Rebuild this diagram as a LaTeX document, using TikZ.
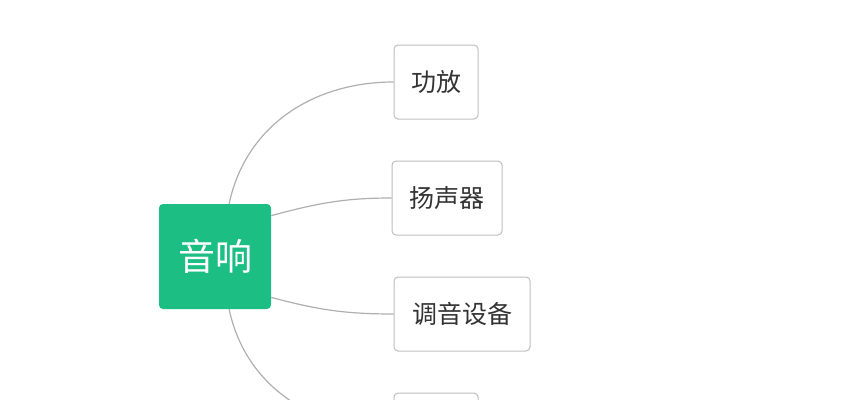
\documentclass[tikz,border=0pt]{standalone}
\usepackage{fontspec}
\setmainfont{Noto Sans CJK SC}
\usepackage{tikz}
\definecolor{mintgreen}{RGB}{28,190,132}
\definecolor{boxgrey}{RGB}{190,190,190}
\definecolor{linkgrey}{RGB}{175,175,175}
\definecolor{textgrey}{RGB}{51,51,51}

\begin{document}
\begin{tikzpicture}[x=0.75pt,y=-0.75pt,
  root/.style={fill=mintgreen,text=white,rounded corners=3pt,inner sep=0pt,
    minimum width=84pt,minimum height=78.75pt,font=\fontsize{27.75}{30}\selectfont},
  leaf/.style={draw=boxgrey,line width=0.75pt,fill=white,text=textgrey,rounded corners=3pt,inner sep=0pt,
    minimum height=55.5pt,font=\fontsize{18.75}{22}\selectfont},
  link/.style={draw=linkgrey,line width=0.9pt}]
\useasboundingbox (0,0) rectangle (851,400);
\clip (0,0) rectangle (851,400);
\node [root] (yinxiang) at (215,256.5) {音响};
\node [leaf,minimum width=63pt] (gongfang) at (436,82) {功放};
\node [leaf,minimum width=82.5pt] (yangshengqi) at (447,198) {扬声器};
\node [leaf,minimum width=102pt] (tiaoyin) at (462,314) {调音设备};
\node [leaf,minimum width=63pt] (more) at (436,430) {};
\draw [link] (gongfang.west) to[out=180,in=78] (yinxiang.75);
\draw [link] (yangshengqi.west) to[out=180,in=15] (yinxiang.36);
\draw [link] (tiaoyin.west) to[out=180,in=-15] (yinxiang.-36);
\draw [link] (more.west) to[out=180,in=-78] (yinxiang.-75);
\end{tikzpicture}
\end{document}
